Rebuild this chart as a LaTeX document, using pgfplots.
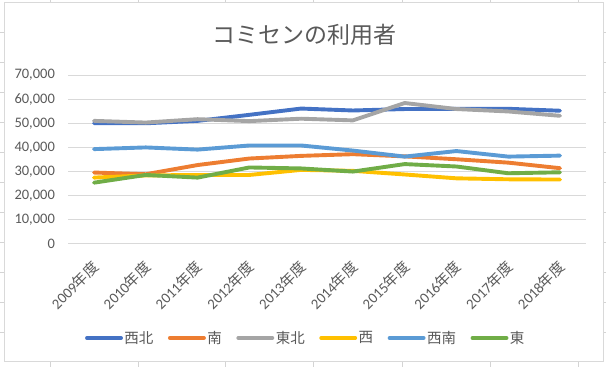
\documentclass[border=0pt]{standalone}
\usepackage{pgfplots}
\pgfplotsset{compat=1.18}
\usepackage{fontspec}
\setmainfont{Carlito}
\newfontfamily\cjk{Noto Sans CJK JP}
\definecolor{txtgray}{HTML}{595959}
\definecolor{gridgray}{HTML}{D9D9D9}
\definecolor{sheetgray}{HTML}{D4D4D4}
\definecolor{c1}{HTML}{4472C4}
\definecolor{c2}{HTML}{ED7D31}
\definecolor{c3}{HTML}{A5A5A5}
\definecolor{c4}{HTML}{FFC000}
\definecolor{c5}{HTML}{5B9BD5}
\definecolor{c6}{HTML}{70AD47}
\begin{document}
\begin{tikzpicture}[x=1pt,y=1pt]
\useasboundingbox (0,0) rectangle (606,367);
% spreadsheet cell lines around the chart
\foreach \yy in {35,65,95,125,155,185,215,245,275,305,335} {
  \draw[sheetgray, line width=0.8pt] (0,\yy) -- (4,\yy);
  \draw[sheetgray, line width=0.8pt] (603,\yy) -- (606,\yy);
}
\foreach \xx in {50,138,225,313,402,490,578} {
  \draw[sheetgray, line width=0.8pt] (\xx,364) -- (\xx,367);
  \draw[sheetgray, line width=0.8pt] (\xx,0) -- (\xx,5);
}
% chart border
\draw[gridgray, line width=1pt] (4,5) rectangle (603,364);
\node[font=\cjk\fontsize{23}{27}\selectfont, text=txtgray] at (304,332) {コミセンの利用者};
\begin{axis}[
  at={(68.1pt,123pt)}, anchor=south west,
  scale only axis, width=517.8pt, height=169pt,
  xmin=-0.5, xmax=9.5, ymin=0, ymax=70000,
  axis line style={draw=none},
  major tick length=0pt,
  ytick={0,10000,...,70000},
  scaled y ticks=false,
  ymajorgrids,
  major grid style={color=gridgray, line width=1pt},
  /pgf/number format/assume math mode=true,
  /pgf/number format/.cd, 1000 sep={,}, /pgfplots/.cd,
  yticklabel style={font=\fontsize{14.5}{16}\selectfont, text=txtgray, anchor=east, inner sep=0pt, xshift=-13pt},
  xtick={0,...,9},
  xticklabels={2009{\cjk 年度},2010{\cjk 年度},2011{\cjk 年度},2012{\cjk 年度},2013{\cjk 年度},2014{\cjk 年度},2015{\cjk 年度},2016{\cjk 年度},2017{\cjk 年度},2018{\cjk 年度}},
  xticklabel style={font=\fontsize{14.8}{16}\selectfont, text=txtgray, yshift=-20pt, xshift=2pt, rotate=45, anchor=east, inner sep=0pt},
  every axis plot/.append style={line width=3.9pt, line cap=round, line join=round, mark=none},
  legend columns=6,
  legend style={at={(0.4585,-0.556)}, anchor=center, draw=none, fill=none,
    font=\cjk\fontsize{14.5}{16}\selectfont, text=txtgray,
    /tikz/every even column/.append style={column sep=13pt},
    nodes={inner sep=1.5pt}},
  legend image code/.code={\draw[#1] (0pt,0pt) -- (34pt,0pt);},
]
\addplot[c1] coordinates {(0,50000)(1,50000)(2,51000)(3,53500)(4,56100)(5,55300)(6,55900)(7,56000)(8,56000)(9,55200)};
\addlegendentry{西北}
\addplot[c2] coordinates {(0,29600)(1,28900)(2,32700)(3,35400)(4,36500)(5,37200)(6,36300)(7,35100)(8,33700)(9,31400)};
\addlegendentry{南}
\addplot[c3] coordinates {(0,51000)(1,50300)(2,51700)(3,50900)(4,51900)(5,51200)(6,58400)(7,55900)(8,54900)(9,53100)};
\addlegendentry{東北}
\addplot[c4] coordinates {(0,27500)(1,28400)(2,28600)(3,28600)(4,30700)(5,30300)(6,28800)(7,27200)(8,26800)(9,26700)};
\addlegendentry{西}
\addplot[c5] coordinates {(0,39300)(1,40000)(2,39100)(3,40800)(4,40800)(5,38700)(6,36200)(7,38500)(8,36200)(9,36600)};
\addlegendentry{西南}
\addplot[c6] coordinates {(0,25400)(1,28600)(2,27500)(3,31700)(4,31300)(5,30000)(6,33100)(7,32100)(8,29300)(9,29700)};
\addlegendentry{東}
\end{axis}
\end{tikzpicture}
\end{document}
